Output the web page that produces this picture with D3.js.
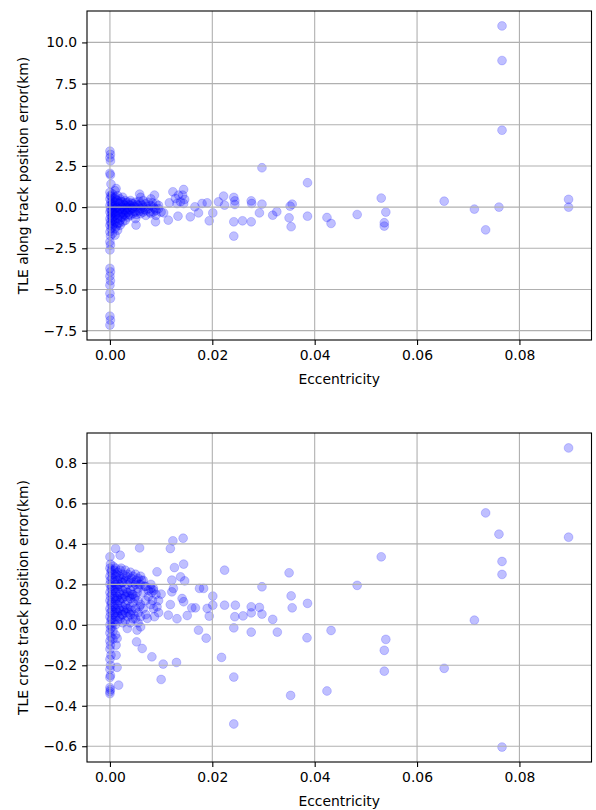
<!DOCTYPE html>
<html>
<head>
<meta charset="utf-8">
<script src="https://cdn.jsdelivr.net/npm/d3@7"></script>
<style>
  body { margin: 0; background: #fff; }
  svg text { font-family: "DejaVu Sans", sans-serif; font-size: 13.9px; fill: #000; }
</style>
</head>
<body>
<script>
const eccTicks = [0, 0.02, 0.04, 0.06, 0.08];
const alongTicks = [-7.5, -5, -2.5, 0, 2.5, 5, 7.5, 10];
const crossTicks = [-0.6, -0.4, -0.2, 0, 0.2, 0.4, 0.6, 0.8];

// [eccentricity, along track error km]
const alongTrack = [
  [0.0000, 3.40], [0.0001, 3.20], [0.0000, 3.00], [0.0001, 2.80], [0.0000, 2.05], [0.0001, 1.95], [0.0002, 1.40],
  [0.0000, 0.90], [0.0001, 0.70], [0.0000, 0.50], [0.0002, 0.30], [0.0000, 0.10], [0.0001, -0.10], [0.0000, -0.30],
  [0.0002, -0.50], [0.0000, -0.70], [0.0001, -0.90], [0.0000, -1.10], [0.0002, -1.30], [0.0000, -1.50],
  [0.0001, -1.75], [0.0000, -2.10], [0.0001, -2.30], [0.0000, -2.60], [0.0000, -3.72], [0.0001, -3.93],
  [0.0000, -4.19], [0.0001, -4.47], [0.0000, -4.74], [0.0000, -5.24], [0.0001, -5.54], [0.0000, -6.62],
  [0.0001, -6.86], [0.0000, -7.16],
  [0.0005, 0.8], [0.0005, 0.4], [0.0005, 0.2], [0.0005, 0.0], [0.0005, -0.2], [0.0005, -0.4], [0.0005, -0.6],
  [0.0005, -0.8], [0.0005, -1.2], [0.0005, -1.6],
  [0.0010, 1.0], [0.0010, 0.6], [0.0010, 0.3], [0.0010, 0.1], [0.0010, -0.1], [0.0010, -0.3], [0.0010, -0.5],
  [0.0010, -0.9], [0.0010, -1.3], [0.0010, -1.7],
  [0.0015, 0.7], [0.0015, 0.4], [0.0015, 0.0], [0.0015, -0.3], [0.0015, -0.7], [0.0015, -1.0], [0.0015, -1.4],
  [0.0020, 0.5], [0.0020, 0.2], [0.0020, -0.1], [0.0020, -0.4], [0.0020, -0.8], [0.0020, -1.1],
  [0.0025, 0.6], [0.0025, 0.3], [0.0025, 0.0], [0.0025, -0.3], [0.0025, -0.6], [0.0025, -0.9],
  [0.0030, 0.4], [0.0030, 0.1], [0.0030, -0.2], [0.0030, -0.5], [0.0030, -0.8],
  [0.0035, 0.3], [0.0035, 0.0], [0.0035, -0.3], [0.0035, -0.6],
  [0.0040, 0.4], [0.0040, 0.1], [0.0040, -0.2], [0.0040, -0.5],
  [0.0045, 0.2], [0.0045, -0.1], [0.0045, -0.4],
  [0.0050, 0.3], [0.0050, 0.0], [0.0050, -0.3], [0.0050, -0.7],
  [0.0055, 0.1], [0.0055, -0.2], [0.0051, -1.09],
  [0.0060, 0.6], [0.0060, 0.2], [0.0060, -0.1], [0.0060, -0.4],
  [0.0065, 0.4], [0.0065, 0.0], [0.0065, -0.3],
  [0.0070, 0.2], [0.0070, -0.2], [0.0070, -0.5],
  [0.0075, 0.3], [0.0075, -0.1],
  [0.0080, 0.5], [0.0080, 0.1], [0.0080, -0.4],
  [0.0085, 0.0], [0.0085, -0.3], [0.0087, 0.73],
  [0.0090, 0.2], [0.0090, -0.2], [0.0090, -0.5], [0.0089, -0.89],
  [0.0095, 0.1], [0.0095, -0.1], [0.0100, -0.3],
  [0.0003, 0.65], [0.0004, 0.15], [0.0003, -0.25], [0.0004, -0.65], [0.0003, -1.0], [0.0007, 0.55],
  [0.0008, 0.05], [0.0007, -0.35], [0.0008, -0.75], [0.0007, -1.05], [0.0012, 0.45], [0.0013, -0.05],
  [0.0012, -0.45], [0.0013, -1.15], [0.0017, 0.25], [0.0018, -0.15], [0.0017, -0.55], [0.0018, -0.95],
  [0.0022, 0.35], [0.0023, 0.0], [0.0022, -0.35], [0.0023, -0.6], [0.0027, 0.15], [0.0028, -0.15],
  [0.0027, -0.45], [0.0032, 0.25], [0.0033, -0.05], [0.0032, -0.35], [0.0037, 0.15], [0.0038, -0.15],
  [0.0037, -0.45], [0.0042, 0.25], [0.0043, -0.05], [0.0047, 0.05], [0.0048, -0.25], [0.0053, 0.15],
  [0.0052, -0.45], [0.0057, 0.35], [0.0058, -0.25], [0.0063, 0.1], [0.0067, -0.15], [0.0072, 0.05],
  [0.0078, -0.3], [0.0083, 0.25], [0.0088, -0.1],
  [0.0012, 1.13], [0.0058, 0.79], [0.0105, -0.35], [0.0114, -0.79], [0.0116, 0.26], [0.0123, 0.93],
  [0.0128, 0.53], [0.0131, 0.22], [0.0133, -0.55], [0.0134, 0.73], [0.0138, 0.32], [0.0142, 0.73],
  [0.0144, 1.07], [0.0144, 0.22], [0.0146, 0.47], [0.0157, -0.59], [0.0166, 0.02], [0.0173, -0.35],
  [0.0180, 0.22], [0.0190, 0.26], [0.0194, -0.83], [0.0201, -0.35], [0.0212, 0.32], [0.0222, 0.67],
  [0.0224, 0.12], [0.0242, 0.59], [0.0244, 0.38], [0.0244, 0.16], [0.0242, -0.89], [0.0242, -1.76],
  [0.0259, -0.83], [0.0276, 0.38], [0.0277, 0.22], [0.0276, -0.89], [0.0297, 2.39], [0.0297, 0.18],
  [0.0292, -0.35], [0.0318, -0.49], [0.0326, -0.28], [0.0356, 0.18], [0.0352, 0.06], [0.0350, -0.65],
  [0.0354, -1.19], [0.0386, 1.48], [0.0386, -0.55], [0.0424, -0.63], [0.0432, -0.99], [0.0483, -0.45],
  [0.0530, 0.55], [0.0539, -0.30], [0.0536, -0.95], [0.0536, -1.15], [0.0653, 0.36], [0.0712, -0.12],
  [0.0734, -1.38], [0.0760, 0.0], [0.0766, 4.67], [0.0766, 8.9], [0.0766, 11.0], [0.0896, 0.47], [0.0896, 0.0]
];

// [eccentricity, cross track error km]
const crossTrack = [
  [0.0000, 0.336], [0.0001, 0.30], [0.0000, 0.28], [0.0002, 0.26], [0.0000, 0.24], [0.0001, 0.22], [0.0000, 0.20],
  [0.0002, 0.18], [0.0000, 0.16], [0.0001, 0.14], [0.0000, 0.12], [0.0002, 0.10], [0.0000, 0.08], [0.0001, 0.06],
  [0.0000, 0.04], [0.0002, 0.02], [0.0000, 0.0], [0.0001, -0.02], [0.0000, -0.04], [0.0002, -0.06], [0.0000, -0.08],
  [0.0001, -0.10], [0.0000, -0.12], [0.0002, -0.15], [0.0000, -0.17], [0.0001, -0.20], [0.0000, -0.22],
  [0.0001, -0.25], [0.0000, -0.26], [0.0000, -0.31], [0.0001, -0.32], [0.0000, -0.33], [0.0000, -0.34],
  [0.0006, 0.29], [0.0006, 0.25], [0.0006, 0.21], [0.0006, 0.17], [0.0006, 0.13], [0.0006, 0.09], [0.0006, 0.05],
  [0.0006, 0.01], [0.0006, -0.03], [0.0006, -0.07],
  [0.0011, 0.377], [0.0011, 0.28], [0.0011, 0.24], [0.0011, 0.20], [0.0011, 0.16], [0.0011, 0.12], [0.0011, 0.08],
  [0.0011, 0.04], [0.0011, 0.0], [0.0011, -0.05], [0.0012, -0.10], [0.0012, -0.15],
  [0.0015, 0.26], [0.0015, 0.22], [0.0015, 0.18], [0.0015, 0.14], [0.0015, 0.10], [0.0015, 0.06], [0.0015, 0.02],
  [0.0014, -0.067], [0.0014, -0.21], [0.0017, -0.298],
  [0.0020, 0.344], [0.0020, 0.27], [0.0020, 0.23], [0.0020, 0.19], [0.0020, 0.15], [0.0020, 0.11], [0.0020, 0.07],
  [0.0020, 0.03],
  [0.0025, 0.25], [0.0025, 0.21], [0.0025, 0.17], [0.0025, 0.13], [0.0025, 0.09], [0.0025, 0.05], [0.0025, 0.01],
  [0.0030, 0.27], [0.0030, 0.22], [0.0030, 0.18], [0.0030, 0.14], [0.0030, 0.10], [0.0030, 0.06], [0.0030, 0.02],
  [0.0034, -0.018],
  [0.0035, 0.25], [0.0035, 0.20], [0.0035, 0.16], [0.0035, 0.12], [0.0035, 0.08], [0.0035, 0.04],
  [0.0040, 0.26], [0.0040, 0.21], [0.0040, 0.17], [0.0040, 0.13], [0.0040, 0.09], [0.0040, 0.05], [0.0040, 0.01],
  [0.0045, 0.24], [0.0045, 0.19], [0.0045, 0.15], [0.0045, 0.11], [0.0045, 0.03],
  [0.0050, 0.25], [0.0050, 0.20], [0.0050, 0.14], [0.0050, 0.08], [0.0050, 0.03], [0.0053, -0.026],
  [0.0055, 0.23], [0.0055, 0.18], [0.0055, 0.12], [0.0055, 0.06], [0.0055, 0.01],
  [0.0058, 0.38], [0.0060, 0.24], [0.0060, 0.20], [0.0060, 0.10], [0.0060, 0.04], [0.0060, -0.01],
  [0.0065, 0.22], [0.0065, 0.16], [0.0065, 0.08],
  [0.0070, 0.19], [0.0070, 0.12], [0.0070, 0.05],
  [0.0075, 0.17], [0.0075, 0.14], [0.0073, 0.032],
  [0.0080, 0.20], [0.0080, 0.18], [0.0080, 0.10],
  [0.0085, 0.18], [0.0085, 0.17], [0.0085, 0.08], [0.0087, 0.04],
  [0.0092, 0.262], [0.0090, 0.15], [0.0092, 0.089], [0.0095, 0.12], [0.0095, 0.06],
  [0.0003, 0.27], [0.0004, 0.23], [0.0003, 0.19], [0.0004, 0.15], [0.0003, 0.11], [0.0004, 0.07],
  [0.0003, 0.03], [0.0004, -0.01], [0.0008, 0.27], [0.0009, 0.22], [0.0008, 0.18], [0.0009, 0.14],
  [0.0008, 0.10], [0.0009, 0.06], [0.0008, 0.02], [0.0013, 0.25], [0.0013, 0.19], [0.0013, 0.13],
  [0.0013, 0.07], [0.0018, 0.24], [0.0018, 0.20], [0.0018, 0.16], [0.0018, 0.12], [0.0018, 0.08],
  [0.0018, 0.04], [0.0022, 0.28], [0.0023, 0.21], [0.0022, 0.13], [0.0023, 0.05], [0.0027, 0.23],
  [0.0028, 0.15], [0.0027, 0.07], [0.0032, 0.24], [0.0033, 0.16], [0.0032, 0.08], [0.0037, 0.22],
  [0.0038, 0.14], [0.0037, 0.06], [0.0042, 0.23], [0.0043, 0.15], [0.0042, 0.07], [0.0047, 0.21],
  [0.0048, 0.13], [0.0047, 0.05], [0.0052, 0.22], [0.0053, 0.16], [0.0057, 0.20], [0.0058, 0.09],
  [0.0062, 0.22], [0.0068, 0.19], [0.0082, 0.16], [0.0083, 0.12],
  [0.0118, 0.377], [0.0123, 0.415], [0.0143, 0.428], [0.0144, 0.30], [0.0126, 0.283], [0.0121, 0.221],
  [0.0124, 0.18], [0.0121, 0.163], [0.0138, 0.237], [0.0146, 0.217], [0.0141, 0.13], [0.0144, 0.114],
  [0.0118, 0.10], [0.0114, 0.048], [0.0131, 0.03], [0.0151, 0.046], [0.0160, 0.084], [0.0100, 0.152],
  [0.0052, -0.084], [0.0063, -0.117], [0.0082, -0.158], [0.0104, -0.194], [0.0130, -0.186], [0.0100, -0.27],
  [0.0173, -0.026], [0.0188, -0.066], [0.0175, 0.18], [0.0183, 0.18], [0.0201, 0.142], [0.0167, 0.084],
  [0.0190, 0.081], [0.0194, 0.043], [0.0201, 0.097], [0.0218, -0.161], [0.0224, 0.27], [0.0224, 0.097],
  [0.0245, 0.097], [0.0244, 0.04], [0.0242, -0.015], [0.0242, -0.258], [0.0242, -0.49], [0.0260, 0.044],
  [0.0276, 0.089], [0.0276, 0.059], [0.0276, -0.036], [0.0292, 0.086], [0.0297, 0.053], [0.0297, 0.188],
  [0.0318, 0.027], [0.0327, -0.036], [0.0350, 0.257], [0.0354, 0.143], [0.0356, 0.084], [0.0353, -0.349],
  [0.0386, 0.106], [0.0385, -0.064], [0.0424, -0.327], [0.0432, -0.028], [0.0483, 0.195], [0.0530, 0.336],
  [0.0539, -0.072], [0.0536, -0.126], [0.0536, -0.229], [0.0653, -0.215], [0.0712, 0.023], [0.0734, 0.553],
  [0.0760, 0.448], [0.0766, 0.313], [0.0766, 0.249], [0.0766, -0.604], [0.0896, 0.874], [0.0896, 0.433]
];

const width = 596;
const height = 810;
const tickLen = 4.9;
const tickPad = 4.9;

const svg = d3.select("body")
  .append("svg")
  .attr("width", width)
  .attr("height", height);

// matplotlib style 5% margins
function padded(values) {
  const [lo, hi] = d3.extent(values);
  const m = (hi - lo) * 0.05;
  return [lo - m, hi + m];
}

function drawPanel(options) {
  const { rows, yTicks, yLabel, box } = options;

  const x = d3.scaleLinear()
    .domain(padded(rows.map((d) => d[0])))
    .range([box.left, box.right]);
  const y = d3.scaleLinear()
    .domain(padded(rows.map((d) => d[1])))
    .range([box.bottom, box.top]);

  const g = svg.append("g");

  g.append("g")
    .selectAll("circle")
    .data(rows)
    .join("circle")
    .attr("cx", (d) => x(d[0]))
    .attr("cy", (d) => y(d[1]))
    .attr("r", 4.4)
    .attr("fill", "blue")
    .attr("fill-opacity", 0.25)
    .attr("stroke", "blue")
    .attr("stroke-opacity", 0.18)
    .attr("stroke-width", 1);

  // grid sits above the scatter, as in the source
  const grid = g.append("g")
    .attr("stroke", "#b0b0b0")
    .attr("stroke-width", 1.1);
  grid.selectAll("line.gx")
    .data(eccTicks)
    .join("line")
    .attr("class", "gx")
    .attr("x1", (d) => x(d))
    .attr("x2", (d) => x(d))
    .attr("y1", box.top)
    .attr("y2", box.bottom);
  grid.selectAll("line.gy")
    .data(yTicks)
    .join("line")
    .attr("class", "gy")
    .attr("x1", box.left)
    .attr("x2", box.right)
    .attr("y1", (d) => y(d))
    .attr("y2", (d) => y(d));

  const xAxis = g.append("g")
    .attr("transform", `translate(0,${box.bottom})`)
    .call(d3.axisBottom(x)
      .tickValues(eccTicks)
      .tickFormat(d3.format(".2f"))
      .tickSize(tickLen)
      .tickPadding(tickPad));
  xAxis.select(".domain").remove();

  const yAxis = g.append("g")
    .attr("transform", `translate(${box.left},0)`)
    .call(d3.axisLeft(y)
      .tickValues(yTicks)
      .tickFormat(d3.format(".1f"))
      .tickSize(tickLen)
      .tickPadding(tickPad));
  yAxis.select(".domain").remove();

  g.selectAll(".tick line").attr("stroke-width", 1.1);

  g.append("rect")
    .attr("x", box.left)
    .attr("y", box.top)
    .attr("width", box.right - box.left)
    .attr("height", box.bottom - box.top)
    .attr("fill", "none")
    .attr("stroke", "#000")
    .attr("stroke-width", 1.1);

  g.append("text")
    .attr("x", (box.left + box.right) / 2)
    .attr("y", box.bottom + 44)
    .attr("text-anchor", "middle")
    .text("Eccentricity");

  g.append("text")
    .attr("transform", `translate(28,${(box.top + box.bottom) / 2}) rotate(-90)`)
    .attr("text-anchor", "middle")
    .text(yLabel);
}

drawPanel({
  rows: alongTrack,
  yTicks: alongTicks,
  yLabel: "TLE along track position error(km)",
  box: { left: 87, right: 591.5, top: 11, bottom: 340 }
});

drawPanel({
  rows: crossTrack,
  yTicks: crossTicks,
  yLabel: "TLE cross track position error(km)",
  box: { left: 87, right: 591.5, top: 433, bottom: 762 }
});
</script>
</body>
</html>
